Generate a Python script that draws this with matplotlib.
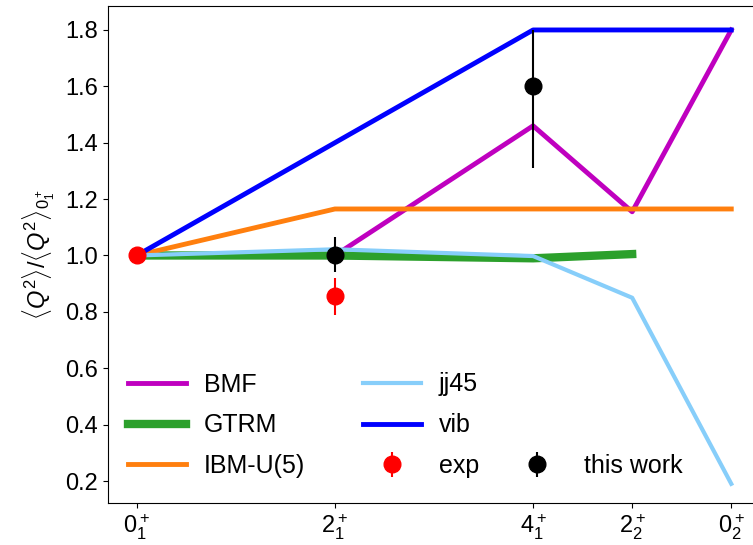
import numpy as np
import matplotlib
matplotlib.use("Agg")
import matplotlib.pyplot as plt

plt.rcParams["font.family"] = ["Liberation Sans", "DejaVu Sans"]
plt.rcParams["mathtext.fontset"] = "custom"
plt.rcParams["mathtext.rm"] = "Liberation Sans"
plt.rcParams["mathtext.it"] = "Liberation Sans:italic"
plt.rcParams["font.size"] = 17

# etats et positions
states = [r"$0^+_1$", r"$2^+_1$", r"$4^+_1$", r"$2^+_2$", r"$0^+_2$"]
xpos = [0, 2, 4, 5, 6]

bmf = [1.0, 1.0, 1.46, 1.155, 1.8]
gtrm = [1.0, 1.0, 0.99, 1.005]
ibm = [1.0, 1.165, 1.165, 1.165, 1.165]
jj45 = [1.0, 1.022, 0.998, 0.85, 0.19]
vib = [1.0, 1.4, 1.8, 1.8, 1.8]

exp_x = [0, 2]
exp_y = [1.0, 0.855]
exp_err = [0.0, 0.065]

tw_x = [2, 4]
tw_y = [1.0, 1.6]
tw_err_lo = [0.06, 0.29]
tw_err_hi = [0.065, 0.2]

fig = plt.figure(figsize=(7.53, 5.45), dpi=100)
ax = fig.add_axes([108 / 753, 42 / 545, 653 / 753, 497 / 545])

l1, = ax.plot(xpos, bmf, color="m", lw=3.5, label="BMF")
l2, = ax.plot(xpos[:4], gtrm, color="tab:green", lw=6, label="GTRM")
l3, = ax.plot(xpos, ibm, color="tab:orange", lw=3.5, label="IBM-U(5)")
l4, = ax.plot(xpos, jj45, color="lightskyblue", lw=3, label="jj45")
l5, = ax.plot(xpos, vib, color="b", lw=3.5, label="vib")
e1 = ax.errorbar(exp_x, exp_y, yerr=exp_err, fmt="o", color="red", ms=12, elinewidth=1.5,
                 label="exp", zorder=5)
e2 = ax.errorbar(tw_x, tw_y, yerr=[tw_err_lo, tw_err_hi], fmt="o", color="black", ms=12,
                 elinewidth=1.5, label="this work", zorder=5)

ax.set_xticks(xpos)
ax.set_xticklabels(states)
ax.set_xlim(-0.29, 6.3)
ax.set_ylim(0.122, 1.885)
ax.set_yticks([0.2, 0.4, 0.6, 0.8, 1.0, 1.2, 1.4, 1.6, 1.8])
ax.set_ylabel(r"$\langle Q^2\rangle/\langle Q^2\rangle_{0_1^+}$", labelpad=6)

# legende en deux morceaux : 2 colonnes + "this work" a part
leg_kw = dict(loc="lower left", frameon=False, fontsize=18, handlelength=2.32,
              handletextpad=0.72, labelspacing=0.67, borderaxespad=0.6)
leg1 = ax.legend([l1, l2, l3, l4, l5, e1], ["BMF", "GTRM", "IBM-U(5)", "jj45", "vib", "exp"],
                 ncol=2, columnspacing=2.3, bbox_to_anchor=(-0.0077, 0), **leg_kw)
ax.add_artist(leg1)
ax.legend([e2], ["this work"], bbox_to_anchor=(0.574, 0), **leg_kw)

fig.savefig("out.png", dpi=100)
